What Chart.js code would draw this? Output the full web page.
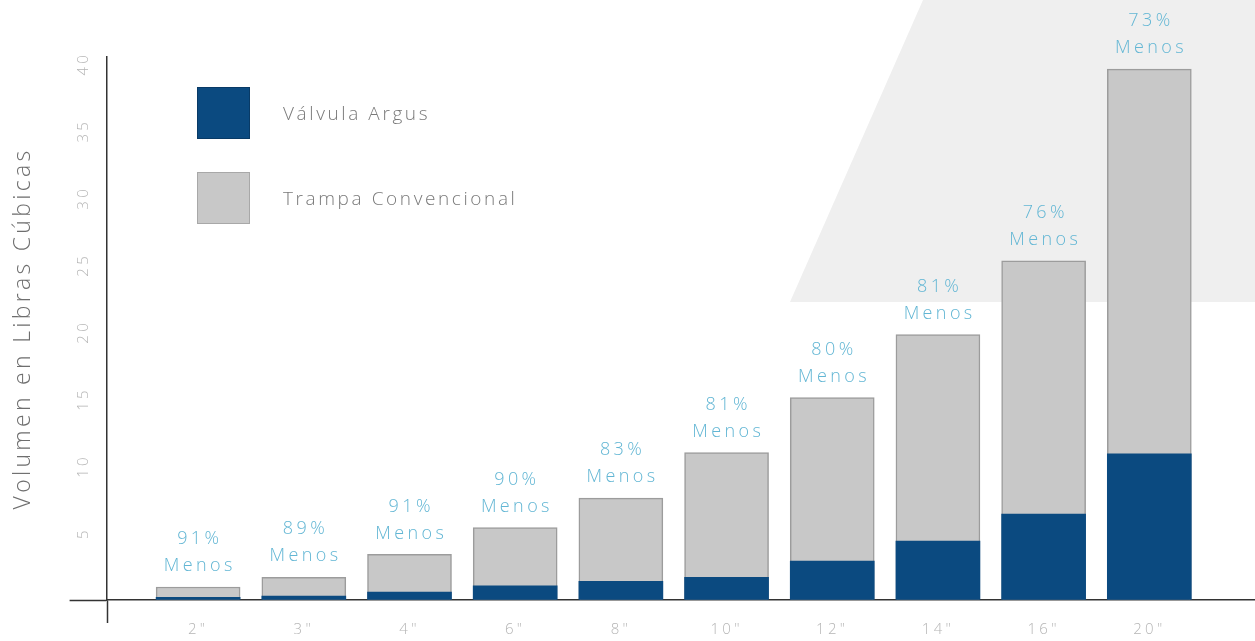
<!DOCTYPE html>
<html>
<head>
<meta charset="utf-8">
<script src="https://cdn.jsdelivr.net/npm/chart.js@4.4.1/dist/chart.umd.min.js"></script>
<style>
  html, body { margin: 0; padding: 0; background: #ffffff; }
  #wrap { position: relative; width: 1255px; height: 641px; overflow: hidden; }
  #bgshape { position: absolute; left: 0; top: 0; width: 1255px; height: 641px; background: #efefef;
    clip-path: polygon(923px 0px, 1255px 0px, 1255px 302px, 790px 302px); }
  #cv { position: absolute; left: 0; top: 0; }
  #legend { position: absolute; left: 197px; top: 87px; font-family: "Open Sans", sans-serif; font-weight: 300; }
  .lg-item { position: absolute; left: 0; display: flex; align-items: center; white-space: nowrap; }
  .lg-box { width: 53px; height: 52px; box-sizing: border-box; border: 1px solid; }
  .lg-text { margin-left: 33px; font-size: 19px; color: #7a7a7a; letter-spacing: 2.6px; }
</style>
</head>
<body>
<div id="wrap">
  <div id="bgshape"></div>
  <canvas id="cv" width="1255" height="641"></canvas>
  <div id="legend"></div>
</div>
<script>
// ---- data ----
const categories = ['2"', '3"', '4"', '6"', '8"', '10"', '12"', '14"', '16"', '20"'];
const argusValues = [0.2, 0.3, 0.6, 1.05, 1.4, 1.7, 2.9, 4.4, 6.4, 10.9];
const trapValues = [0.97, 1.7, 3.4, 5.4, 7.6, 11.0, 15.1, 19.8, 25.3, 39.6];
const reductionPct = [91, 89, 91, 90, 83, 81, 80, 81, 76, 73];
const seriesNames = ['Válvula Argus', 'Trampa Convencional'];
const yTicks = [0, 5, 10, 15, 20, 25, 30, 35, 40];
const yTitle = 'Volumen en Libras Cúbicas';
const lessWord = 'Menos';

const BLUE = '#0b4a80';
const GREY = '#c8c8c8';
const X_MIN = -0.866;
const X_MAX = 10.0;
const AXIS_TICK = X_MIN + 0.004;
const TRACKING = '3.3px';

const toPoints = arr => arr.map((v, i) => ({ x: i, y: v }));

const trackingPlugin = {
  id: 'tracking',
  beforeUpdate(chart) { try { chart.ctx.letterSpacing = TRACKING; } catch (e) {} },
  beforeDraw(chart) { try { chart.ctx.letterSpacing = TRACKING; } catch (e) {} }
};

const labelPlugin = {
  id: 'reductionLabels',
  afterDatasetsDraw(chart) {
    const meta = chart.getDatasetMeta(1);
    const ctx = chart.ctx;
    ctx.save();
    ctx.fillStyle = '#62b6d4';
    ctx.font = '300 18px "Open Sans", sans-serif';
    ctx.textAlign = 'center';
    ctx.textBaseline = 'middle';
    try { ctx.letterSpacing = '3.4px'; } catch (e) {}
    meta.data.forEach((el, i) => {
      ctx.fillText(reductionPct[i] + '%', el.x + 1.7, el.y - 48);
      ctx.fillText(lessWord, el.x + 1.7, el.y - 21);
    });
    ctx.restore();
  }
};

const chart = new Chart(document.getElementById('cv'), {
  type: 'bar',
  data: {
    datasets: [
      { label: seriesNames[0], data: toPoints(argusValues), backgroundColor: BLUE, borderColor: BLUE,
        borderWidth: 0, grouped: false, barThickness: 84 },
      { label: seriesNames[1], data: toPoints(trapValues), backgroundColor: GREY, borderColor: '#9c9c9c',
        borderWidth: 1.5, grouped: false, barThickness: 84 }
    ]
  },
  options: {
    responsive: false,
    animation: false,
    layout: { padding: { left: 6, top: 57, right: 0, bottom: 4 } },
    plugins: { legend: { display: false }, tooltip: { enabled: false } },
    scales: {
      x: {
        type: 'linear',
        offset: false,
        min: X_MIN,
        max: X_MAX,
        afterBuildTicks(axis) {
          axis.ticks = [AXIS_TICK].concat(categories.map((c, i) => i)).map(v => ({ value: v }));
        },
        border: { display: true, color: '#333333', width: 1.5 },
        grid: {
          offset: false,
          drawOnChartArea: false, drawTicks: true, tickLength: 23, tickWidth: 1.5,
          tickColor: ctx => (ctx.tick && ctx.tick.value === AXIS_TICK) ? '#333333' : 'rgba(0,0,0,0)'
        },
        ticks: {
          autoSkip: false,
          padding: -2,
          color: '#b5b5b5',
          font: { family: '"Open Sans", sans-serif', size: 15, weight: '300' },
          callback: v => (Number.isInteger(v) && categories[v] !== undefined) ? categories[v] : ''
        }
      },
      y: {
        min: 0,
        max: 40.5,
        afterBuildTicks(axis) { axis.ticks = yTicks.map(v => ({ value: v })); },
        border: { display: true, color: '#333333', width: 1.5 },
        grid: {
          drawOnChartArea: false, drawTicks: true, tickLength: 37, tickWidth: 1.5,
          tickColor: ctx => (ctx.tick && ctx.tick.value === 0) ? '#333333' : 'rgba(0,0,0,0)'
        },
        ticks: {
          padding: -25.8,
          minRotation: 90,
          maxRotation: 90,
          crossAlign: 'center',
          color: '#b5b5b5',
          font: { family: '"Open Sans", sans-serif', size: 15, weight: '300' },
          callback: v => (v === 0 ? '' : String(v))
        },
        title: {
          display: true,
          text: yTitle,
          color: '#6e6e6e',
          font: { family: '"Open Sans", sans-serif', size: 23, weight: '300' },
          padding: { top: 4, bottom: 65.6 }
        }
      }
    }
  },
  plugins: [trackingPlugin, labelPlugin]
});

// HTML legend from chart datasets
const legendEl = document.getElementById('legend');
chart.data.datasets.forEach((ds, i) => {
  const item = document.createElement('div');
  item.className = 'lg-item';
  item.style.top = (i * 85) + 'px';
  const box = document.createElement('div');
  box.className = 'lg-box';
  box.style.background = ds.backgroundColor;
  box.style.borderColor = i === 0 ? '#083a66' : '#a8a8a8';
  const txt = document.createElement('span');
  txt.className = 'lg-text';
  txt.textContent = ds.label;
  item.appendChild(box); item.appendChild(txt);
  legendEl.appendChild(item);
});
</script>
</body>
</html>
